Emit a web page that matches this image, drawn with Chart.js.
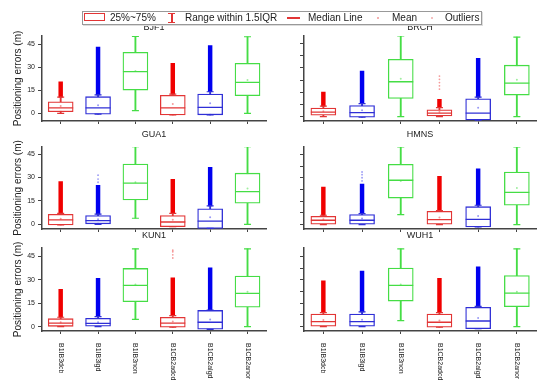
<!DOCTYPE html>
<html>
<head>
<meta charset="utf-8">
<script src="https://cdn.jsdelivr.net/npm/chart.js@4.4.1/dist/chart.umd.min.js"></script>
<style>
  html, body { margin: 0; padding: 0; background: #fff; width: 550px; height: 390px; overflow: hidden;
    font-family: "Liberation Sans", Arial, sans-serif; }
  canvas { position: absolute; }
  #legend { position: absolute; left: 82px; top: 11px; width: 398px; height: 12px; border: 1px solid #999;
    box-shadow: 1px 1px 0 #ddd; font-size: 10px; color: #222; z-index: 5; }
  #legend span { position: absolute; top: 0; line-height: 12px; white-space: nowrap; }
  #legend .s { position: absolute; }
</style>
</head>
<body>
<div id="legend">
  <div class="s" style="left:1px;top:1px;width:19px;height:6px;border:1.5px solid #e23535;"></div>
  <span style="left:27px">25%~75%</span>
  <div class="s" style="left:85px;top:1px;width:7px;height:8px;border-top:1.5px solid #e23535;border-bottom:1.5px solid #e23535;"></div>
  <div class="s" style="left:88px;top:1px;width:1.5px;height:10px;background:#e23535;"></div>
  <span style="left:102px">Range within 1.5IQR</span>
  <div class="s" style="left:204px;top:5px;width:13px;height:1.5px;background:#e23535;"></div>
  <span style="left:225px">Median Line</span>
  <div class="s" style="left:294px;top:5px;width:2px;height:2px;background:#f5b0b0;"></div>
  <span style="left:309px">Mean</span>
  <div class="s" style="left:348px;top:5px;width:2px;height:2px;background:#f5c0c0;"></div>
  <span style="left:362px">Outliers</span>
</div>

<script>
// categories / stations
const categories = ['B1IB3dcb', 'B1IB3lgd', 'B1IB3non', 'B1CB2adcd', 'B1CB2algd', 'B1CB2anor'];
const stations = ['BJF1', 'BRCH', 'GUA1', 'HMNS', 'KUN1', 'WUH1'];
const yTickValues = [0, 15, 30, 45];
const yMinorValues = [7.5, 22.5, 37.5];
const yMin = [-5, -2.7, -3, -2.8, -2.8, -2.8];
const yMax = [50.2, 49.7, 49.6, 49.7, 50.4, 50.4];

// one row per station, one value per category
const q1 = [
  [1.0, -0.6, 15.1, -1.1, -1.0, 11.4],
  [0.9, -0.4, 11.2, 0.4, -2.1, 13.3],
  [-0.4, 0, 15.6, -1.5, -2.6, 13.5],
  [0, 0, 17, 0, -1.5, 12.4],
  [0.2, 0, 16, -0.4, -1.7, 12.4],
  [0, 0, 16.4, -0.4, -1.3, 12.8]
];
const median = [
  [3.5, 3.5, 27.0, 3.5, 3.9, 20.1],
  [2.8, 2.5, 21.5, 2.1, 2.1, 20.7],
  [2.8, 2.4, 26.4, 1.5, 2.1, 21.0],
  [2.8, 2.8, 28.4, 3.2, 3.4, 20.7],
  [2.3, 2.1, 26.4, 2.3, 2.8, 21.3],
  [3.2, 3.2, 26.4, 2.8, 3.6, 21.5]
];
const q3 = [
  [7.5, 10.8, 39.6, 11.7, 12.5, 32.5],
  [5.3, 6.8, 35.3, 4.2, 11.0, 31.7],
  [6.4, 5.6, 38.6, 5.6, 10.0, 32.8],
  [5.3, 6.4, 38.6, 8.5, 11.5, 33.7],
  [5.1, 5.3, 37.3, 6.0, 10.4, 32.4],
  [8.1, 8.1, 37.5, 8.1, 12.4, 32.8]
];
const whiskerLow = [
  [0, -0.6, 1.7, -1.1, -1.0, 0],
  [0, -0.4, 0, 0, -2.1, 0],
  [-0.4, 0, 3.9, -1.5, -2.6, 0],
  [0, 0, 6.4, 0, -1.5, 0],
  [0, 0, 4.7, -0.4, -1.7, 0],
  [0, 0, 3.8, -0.4, -1.3, 0]
];
const whiskerHigh = [
  [10.5, 12, 50, 12.5, 14, 49.7],
  [6.5, 8, 49.7, 5.5, 12, 49],
  [7, 6.5, 49.9, 7, 11.8, 49.9],
  [6, 7, 49.7, 9, 12.4, 49.7],
  [6, 6.4, 49.9, 7, 10.6, 49.9],
  [9, 9.5, 49.9, 9, 13, 49.9]
];
const outlierMax = [
  [20.5, 43, null, 32.5, 43.9, null],
  [15.2, 28, null, 10.6, 36, null],
  [27.4, 25, null, 28.9, 36.6, null],
  [24.1, 26, null, 30.9, 35.8, null],
  [23.9, 30.9, null, 31.3, 37.7, null],
  [29.4, 35.6, null, 30.9, 38.4, null]
];
const means = [
  [4.7, 5.3, 27.5, 6.0, 6.5, 21.6],
  [3.3, 4.0, 23.3, 2.8, 5.5, 22.8],
  [3.6, 3.3, 27.0, 3.0, 4.5, 23.0],
  [3.5, 4.0, 28.0, 4.5, 5.5, 23.5],
  [2.8, 2.8, 27.0, 3.3, 4.5, 22.4],
  [4.2, 4.4, 27.0, 4.0, 5.5, 22.4]
];
// loose outliers above the dense strip: [category index, value]
const sparseOutliers = [
  [],
  [[3, 17], [3, 19], [3, 21], [3, 23], [3, 25]],
  [[1, 27], [1, 29], [1, 31.5]],
  [[1, 28], [1, 30], [1, 32], [1, 33.7]],
  [[3, 44], [3, 46], [3, 48], [3, 49]],
  []
];

const boxColors = ['#e23535', '#2f2fd6', '#45dd45', '#e23535', '#2f2fd6', '#45dd45'];
const stripColors = ['#f00000', '#0000f0', '#30e030', '#f00000', '#0000f0', '#30e030'];
const meanColors = ['#f59a9a', '#9a9af5', '#a0eea0', '#f59a9a', '#9a9af5', '#a0eea0'];

Chart.defaults.font.family = '"Liberation Sans", Arial, sans-serif';

// canvases overlap a little; the x axis block needs >= ~14px or Chart.js pads it anyway
const rows = [
  {top: 18, h: 125, plotTop: 36, plotBottom: 121, gap: 8},
  {top: 124, h: 127, plotTop: 147, plotBottom: 229, gap: 12},
  {top: 226, h: 164, plotTop: 248, plotBottom: 331, gap: 12}
];
const cols = [
  {left: 0, w: 280, plotLeft: 42, plotRight: 277},
  {left: 280, w: 270, plotLeft: 304, plotRight: 540}
];

const panelDeco = {
  id: 'panelDeco',
  afterDraw(chart, args, opts) {
    const {ctx, chartArea} = chart;
    ctx.save();
    ctx.fillStyle = '#222';
    ctx.font = '9px "Liberation Sans", Arial, sans-serif';
    ctx.textAlign = 'center';
    ctx.textBaseline = 'middle';
    ctx.fillText(opts.title, (chartArea.left + chartArea.right) / 2, chartArea.top - opts.gap);
    if (opts.xLabels) {
      const xs = chart.scales.x;
      ctx.font = '7px "Liberation Sans", Arial, sans-serif';
      ctx.textAlign = 'left';
      categories.forEach((c, i) => {
        ctx.save();
        ctx.translate(xs.getPixelForValue(i), xs.top + 12);
        ctx.rotate(Math.PI / 2);
        ctx.fillText(c, 0, 0);
        ctx.restore();
      });
    }
    ctx.restore();
  }
};

stations.forEach((name, p) => {
  const row = rows[Math.floor(p / 2)];
  const col = cols[p % 2];
  const canvas = document.createElement('canvas');
  canvas.width = col.w;
  canvas.height = row.h;
  canvas.style.left = col.left + 'px';
  canvas.style.top = row.top + 'px';
  document.body.appendChild(canvas);

  const xH = row.top + row.h - row.plotBottom;
  const yW = col.plotLeft - col.left;
  const leftCol = p % 2 === 0;
  const tickVals = leftCol ? yTickValues : yTickValues.concat(yMinorValues);

  const sparse = sparseOutliers[p].map(o => ({x: categories[o[0]], y: o[1]}));

  new Chart(canvas, {
    type: 'bar',
    data: {
      labels: categories,
      datasets: [
        {type: 'line', data: median[p], showLine: false, pointStyle: 'line', pointRadius: 12.5,
          pointBorderWidth: 1.3, pointBorderColor: boxColors, pointBackgroundColor: boxColors},
        {type: 'line', data: means[p], showLine: false, pointStyle: 'circle', pointRadius: 1,
          pointBorderWidth: 0, pointBackgroundColor: meanColors},
        {type: 'line', data: whiskerLow[p], showLine: false, pointStyle: 'line', pointRadius: 3.5,
          pointBorderWidth: 1.2, pointBorderColor: boxColors},
        {type: 'line', data: whiskerHigh[p], showLine: false, pointStyle: 'line', pointRadius: 3.5,
          pointBorderWidth: 1.2, pointBorderColor: boxColors},
        {type: 'line', data: sparse, showLine: false, pointStyle: 'circle', pointRadius: 0.9,
          pointBorderWidth: 0,
          pointBackgroundColor: ctx => meanColors[categories.indexOf(ctx.raw ? ctx.raw.x : '')] || '#f99'},
        {data: q1[p].map((v, k) => [v, q3[p][k]]), backgroundColor: '#fff', borderColor: boxColors,
          borderWidth: 1.3, borderSkipped: false, barThickness: 25, grouped: false},
        {data: whiskerLow[p].map((v, k) => [v, whiskerHigh[p][k]]), backgroundColor: boxColors,
          borderWidth: 0, barThickness: 1.2, grouped: false},
        {data: outlierMax[p].map((v, k) => v === null ? null : [whiskerHigh[p][k], v]),
          backgroundColor: stripColors, borderWidth: 0, barThickness: 3.8, grouped: false}
      ]
    },
    options: {
      responsive: false,
      animation: false,
      events: [],
      layout: {padding: {top: row.plotTop - row.top, right: col.left + col.w - col.plotRight, left: 0, bottom: 0}},
      plugins: {
        legend: {display: false},
        tooltip: {enabled: false},
        panelDeco: {title: name, gap: row.gap, xLabels: p >= 4}
      },
      scales: {
        x: {
          type: 'category',
          offset: true,
          grid: {drawOnChartArea: false, tickLength: 3, offset: false, color: '#444'},
          border: {color: '#444', width: 1.5},
          ticks: {display: false},
          afterFit(s) { s.height = xH; }
        },
        y: {
          type: 'linear',
          min: yMin[p],
          max: yMax[p],
          afterBuildTicks(s) { s.ticks = tickVals.map(v => ({value: v})); },
          ticks: {
            callback: v => (leftCol && yTickValues.includes(v)) ? String(v) : '',
            font: {size: 7}, color: '#222', padding: 3
          },
          grid: {drawOnChartArea: false, tickLength: 4, color: '#444'},
          border: {color: '#444', width: 1.5},
          title: {display: leftCol, text: 'Positioning errors (m)', font: {size: 10}, color: '#222',
            padding: {top: 12, bottom: 0}},
          afterFit(s) { s.width = yW; }
        }
      }
    },
    plugins: [panelDeco]
  });
});
</script>
</body>
</html>
